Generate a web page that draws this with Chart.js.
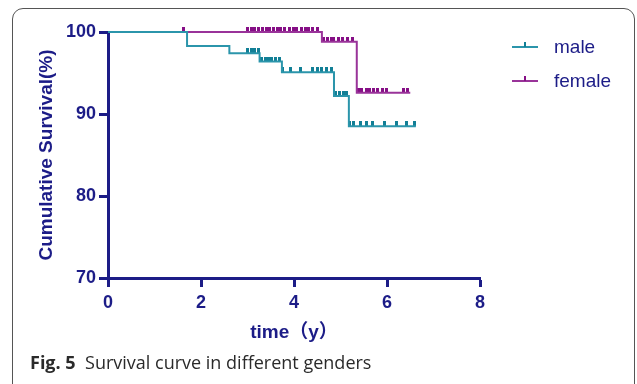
<!DOCTYPE html>
<html>
<head>
<meta charset="utf-8">
<script src="https://cdn.jsdelivr.net/npm/chart.js"></script>
<style>
body { margin: 0; background: #fff; }
#wrap { position: relative; width: 637px; height: 384px; overflow: hidden; background: #fff; }
#frame { position: absolute; left: 12px; top: 8px; width: 621px; height: 420px; border: 1px solid #555; border-radius: 11px; }
#chartCanvas { position: absolute; left: 0; top: 0; }
.leg { position: absolute; left: 512px; font: 19px "Liberation Sans", Arial, sans-serif; color: #1c1c87; }
.leg .sym { position: absolute; left: 0; width: 26px; height: 2px; }
.leg .sym i { position: absolute; left: 12px; top: -4px; width: 2px; height: 5px; }
.leg span { position: absolute; left: 42px; white-space: nowrap; }
#caption { position: absolute; left: 30px; top: 350px; font: 18px "Open Sans", sans-serif; color: #2a2a2a; white-space: nowrap; }
</style>
</head>
<body>
<div id="wrap">
  <div id="frame"></div>
  <canvas id="chartCanvas" width="637" height="384"></canvas>
  <div class="leg" style="top:36px">
    <div class="sym" style="top:10px;background:#2b95ab"><i style="background:#127f96"></i></div>
    <span style="top:0">male</span>
  </div>
  <div class="leg" style="top:70px">
    <div class="sym" style="top:10px;background:#993399"><i style="background:#860f86"></i></div>
    <span style="top:0">female</span>
  </div>
  <div id="caption"><b>Fig. 5</b>&nbsp; Survival curve in different genders</div>
</div>
<script>
// step curves (time in years, survival %)
const maleTimes = [0, 1.70, 2.61, 3.26, 3.74, 4.86, 5.18, 6.62];
const maleSurv = [100, 98.3, 97.4, 96.4, 95.1, 92.2, 88.5, 88.5];
const femaleTimes = [0, 4.60, 5.35, 6.50];
const femaleSurv = [100, 98.8, 92.6, 92.6];

// censored observations
const maleCensor = [3.0, 3.08, 3.16, 3.24, 3.3, 3.38, 3.45, 3.52, 3.6, 3.68,
    3.76, 3.92, 4.13, 4.4, 4.5, 4.6, 4.7, 4.8, 4.9, 4.98, 5.06, 5.12,
    5.2, 5.27, 5.42, 5.55, 5.68, 5.95, 6.2, 6.42, 6.6];
const femaleCensor = [1.63, 3.0, 3.08, 3.16, 3.24, 3.32, 3.4, 3.48, 3.56, 3.64, 3.72,
    3.8, 3.9, 3.98, 4.06, 4.16, 4.24, 4.32, 4.4, 4.5,
    4.64, 4.72, 4.8, 4.86, 4.95, 5.05, 5.15, 5.25,
    5.38, 5.45, 5.55, 5.62, 5.7, 5.8, 5.9, 5.98, 6.35, 6.45];

const navy = '#1c1c87';

// survival level at time t, read from the step arrays
function levelAt(times, surv, t) {
    let v = surv[0];
    for (let i = 0; i < times.length; i++) {
        if (times[i] <= t) v = surv[i];
    }
    return v;
}

function censorMark(color) {
    const c = document.createElement('canvas');
    c.width = 3;
    c.height = 10;
    const g = c.getContext('2d');
    g.fillStyle = color;
    g.fillRect(0, 0, 3, 5);
    return c;
}

function steps(times, surv) {
    return times.map((t, i) => ({ x: t, y: surv[i] }));
}

function marks(list, times, surv) {
    return list.map(t => ({ x: t, y: levelAt(times, surv, t) }));
}

const tickFont = { family: '"Liberation Sans", Arial', size: 18, weight: 'bold' };
const titleFont = { family: '"Liberation Sans", Arial, "Noto Sans CJK SC"', size: 19, weight: 'bold' };

const chart = new Chart('chartCanvas', {
    type: 'scatter',
    data: {
        datasets: [
            {
                label: 'male',
                data: steps(maleTimes, maleSurv),
                showLine: true,
                stepped: 'before',
                borderColor: '#2b95ab',
                borderWidth: 2,
                pointRadius: 0,
                clip: false,
            },
            {
                label: 'female',
                data: steps(femaleTimes, femaleSurv),
                showLine: true,
                stepped: 'before',
                borderColor: '#993399',
                borderWidth: 2,
                pointRadius: 0,
                clip: false,
            },
            {
                label: 'male censored',
                data: marks(maleCensor, maleTimes, maleSurv),
                pointStyle: censorMark('#127f96'),
                clip: false,
            },
            {
                label: 'female censored',
                data: marks(femaleCensor, femaleTimes, femaleSurv),
                pointStyle: censorMark('#860f86'),
                clip: false,
            },
        ]
    },
    options: {
        responsive: false,
        animation: false,
        layout: { padding: { top: 32, right: 157, bottom: 36, left: 0 } },
        plugins: {
            legend: { display: false },
            tooltip: { enabled: false },
        },
        scales: {
            x: {
                type: 'linear',
                min: 0,
                max: 8,
                afterFit(s) { s.height = 70; },
                ticks: { stepSize: 2, padding: 5, color: navy, font: tickFont },
                grid: { drawOnChartArea: false, drawTicks: true, tickLength: 9, tickWidth: 3, color: navy },
                border: { display: true, width: 3, color: navy },
                title: {
                    display: true,
                    text: 'time（y）',
                    color: navy,
                    padding: { top: 0, bottom: 4 },
                    font: titleFont,
                },
            },
            y: {
                min: 70,
                max: 100,
                afterFit(s) { s.width = 108; },
                ticks: { stepSize: 10, padding: 3, color: navy, font: tickFont },
                grid: { drawOnChartArea: false, drawTicks: true, tickLength: 9, tickWidth: 3, color: navy },
                border: { display: true, width: 3, color: navy },
                title: {
                    display: true,
                    text: 'Cumulative Survival(%)',
                    color: navy,
                    padding: { top: 35, bottom: 0 },
                    font: titleFont,
                },
            },
        },
    },
});
</script>
</body>
</html>
